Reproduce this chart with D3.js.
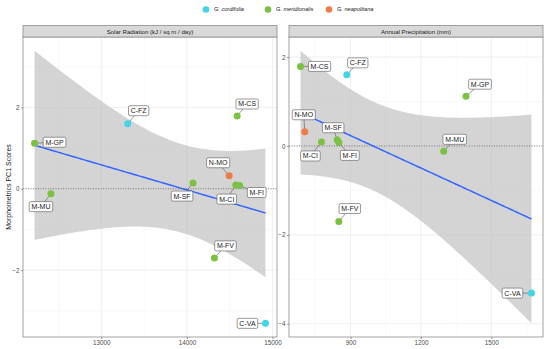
<!DOCTYPE html>
<html>
<head>
<meta charset="utf-8">
<script src="https://cdn.jsdelivr.net/npm/d3@7"></script>
<style>
  body { margin: 0; background: #fff; }
  svg { font-family: "Liberation Sans", Arial, sans-serif; }
</style>
</head>
<body>
<svg id="chart" width="550" height="349"></svg>
<script>
////////// dados

const sites   = ['M-GP','C-FZ','M-CS','N-MO','M-SF','M-CI','M-FI','M-MU','M-FV','C-VA'];
const species = ['G. meridionalis','G. cordifolia','G. meridionalis','G. neapolitana','G. meridionalis',
                 'G. meridionalis','G. meridionalis','G. meridionalis','G. meridionalis','G. cordifolia'];
const solar   = [12220, 13308, 14587, 14494, 14072, 14571, 14617, 12412, 14322, 14918];
const precip  = [1392, 884, 687, 705, 843, 776, 850, 1297, 850, 1671];
const pc1     = [1.12, 1.60, 1.79, 0.32, 0.14, 0.09, 0.08, -0.12, -1.70, -3.31];

const speciesList = ['G. cordifolia','G. meridionalis','G. neapolitana'];
const speciesColors = ['#43D4E6','#7BC143','#EF7B47'];

const solarTicks = [13000, 14000, 15000];
const solarMinor = [12500, 13500, 14500];
const precipTicks = [900, 1200, 1500];
const precipMinor = [750, 1050, 1350, 1650];
const solarYTicks = [-2, 0, 2];
const solarYMinor = [-3, -1, 1, 3];
const precipYTicks = [-4, -2, 0, 2];
const precipYMinor = [-3, -1, 1];

// deslocamento (px) das etiquetas em relacao ao ponto (tipo ggrepel)
const solarNudge  = [[20,-1],[11,-13],[10,-12],[-11,-13],[-11,13],[-9,14],[17,7],[-10,13],[11,-12],[-18,0]];
const precipNudge = [[14,-12],[11,-12],[19,0],[-1,-17],[-4,-12],[-11,14],[11,13],[11,-12],[11,-13],[-19,0]];

const tCrit = 2.306; // t(0.975, df = 8)

////////// layout

const svg = d3.select('#chart');
const color = d3.scaleOrdinal().domain(speciesList).range(speciesColors);

const panelTop = 37, panelBottom = 337;

// ajuste lm + intervalo de confianca
function fitLm(xs, ys){
  const n = xs.length;
  const mx = d3.mean(xs), my = d3.mean(ys);
  let sxx = 0, sxy = 0;
  xs.forEach((x,i) => { sxx += (x-mx)*(x-mx); sxy += (x-mx)*(ys[i]-my); });
  const b = sxy / sxx, a = my - b*mx;
  let sse = 0;
  xs.forEach((x,i) => { const r = ys[i] - (a + b*x); sse += r*r; });
  const s = Math.sqrt(sse / (n-2));
  const ext = d3.extent(xs);
  return d3.range(80).map(k => {
    const x = ext[0] + (ext[1]-ext[0]) * k / 79;
    const fit = a + b*x;
    const se = s * Math.sqrt(1/n + (x-mx)*(x-mx)/sxx);
    return {x: x, y: fit, lo: fit - tCrit*se, hi: fit + tCrit*se};
  });
}

function expand(ext){
  const d = (ext[1]-ext[0]) * 0.05;
  return [ext[0]-d, ext[1]+d];
}

function drawPanel(cfg){
  const g = svg.append('g');
  const smooth = fitLm(cfg.xs, pc1);

  const x = d3.scaleLinear().domain(expand(d3.extent(cfg.xs))).range([cfg.x0, cfg.x1]);
  const yExt = d3.extent(pc1.concat(smooth.map(d => d.lo), smooth.map(d => d.hi)));
  const y = d3.scaleLinear().domain(expand(yExt)).range([panelBottom, panelTop]);

  // grade
  g.selectAll('line.minx').data(cfg.xMinor).join('line')
    .attr('x1', d => x(d)).attr('x2', d => x(d))
    .attr('y1', panelTop).attr('y2', panelBottom)
    .attr('stroke', '#F2F2F2').attr('stroke-width', 0.5);
  g.selectAll('line.miny').data(cfg.yMinor).join('line')
    .attr('y1', d => y(d)).attr('y2', d => y(d))
    .attr('x1', cfg.x0).attr('x2', cfg.x1)
    .attr('stroke', '#F2F2F2').attr('stroke-width', 0.5);
  g.selectAll('line.majx').data(cfg.xTicks).join('line')
    .attr('x1', d => x(d)).attr('x2', d => x(d))
    .attr('y1', panelTop).attr('y2', panelBottom)
    .attr('stroke', '#EBEBEB').attr('stroke-width', 0.8);
  g.selectAll('line.majy').data(cfg.yTicks).join('line')
    .attr('y1', d => y(d)).attr('y2', d => y(d))
    .attr('x1', cfg.x0).attr('x2', cfg.x1)
    .attr('stroke', '#EBEBEB').attr('stroke-width', 0.8);

  // faixa de confianca
  g.append('path')
    .datum(smooth)
    .attr('d', d3.area().x(d => x(d.x)).y0(d => y(d.lo)).y1(d => y(d.hi)))
    .attr('fill', '#BDBDBD').attr('fill-opacity', 0.65);

  // linha zero
  g.append('line')
    .attr('x1', cfg.x0).attr('x2', cfg.x1)
    .attr('y1', y(0)).attr('y2', y(0))
    .attr('stroke', '#444').attr('stroke-width', 0.6)
    .attr('stroke-dasharray', '1,1.5');

  // reta
  g.append('path')
    .datum(smooth)
    .attr('d', d3.line().x(d => x(d.x)).y(d => y(d.y)))
    .attr('fill', 'none').attr('stroke', '#3366FF').attr('stroke-width', 1.5);

  const pts = sites.map((s,i) => ({
    site: s, sp: species[i],
    px: x(cfg.xs[i]), py: y(pc1[i]),
    lx: x(cfg.xs[i]) + cfg.nudge[i][0], ly: y(pc1[i]) + cfg.nudge[i][1]
  }));

  // segmentos
  g.selectAll('line.seg').data(pts).join('line')
    .attr('x1', d => d.px).attr('y1', d => d.py)
    .attr('x2', d => d.lx).attr('y2', d => d.ly)
    .attr('stroke', '#555').attr('stroke-width', 0.6);

  // pontos
  g.selectAll('circle').data(pts).join('circle')
    .attr('cx', d => d.px).attr('cy', d => d.py).attr('r', 3.5)
    .attr('fill', d => color(d.sp));

  // etiquetas
  const lab = g.selectAll('g.lab').data(pts).join('g')
    .attr('transform', d => `translate(${d.lx},${d.ly})`);
  lab.append('text')
    .attr('text-anchor', 'middle').attr('dy', '0.35em')
    .attr('font-size', 7).attr('fill', '#222')
    .text(d => d.site);
  lab.insert('rect', 'text')
    .each(function(){
      const w = this.parentNode.querySelector('text').getComputedTextLength();
      d3.select(this)
        .attr('x', -w/2 - 2.2).attr('y', -5)
        .attr('width', w + 4.4).attr('height', 10)
        .attr('rx', 1.5)
        .attr('fill', '#fff').attr('stroke', '#555').attr('stroke-width', 0.6);
    });

  // borda do painel
  g.append('rect')
    .attr('x', cfg.x0).attr('y', panelTop)
    .attr('width', cfg.x1-cfg.x0).attr('height', panelBottom-panelTop)
    .attr('fill', 'none').attr('stroke', '#8C8C8C').attr('stroke-width', 0.8);

  // faixa do titulo
  g.append('rect')
    .attr('x', cfg.x0).attr('y', 25.5)
    .attr('width', cfg.x1-cfg.x0).attr('height', panelTop-25.5)
    .attr('fill', '#D9D9D9').attr('stroke', '#8C8C8C').attr('stroke-width', 0.8);
  g.append('text')
    .attr('x', (cfg.x0+cfg.x1)/2).attr('y', 31.5).attr('dy', '0.35em')
    .attr('text-anchor', 'middle').attr('font-size', 6.1).attr('fill', '#1A1A1A')
    .text(cfg.title);

  // eixos
  const ax = g.append('g').attr('transform', `translate(0,${panelBottom})`)
    .call(d3.axisBottom(x).tickValues(cfg.xTicks).tickSize(2).tickPadding(2).tickFormat(d3.format('d')));
  const ay = g.append('g').attr('transform', `translate(${cfg.x0},0)`)
    .call(d3.axisLeft(y).tickValues(cfg.yTicks).tickSize(2).tickPadding(1.5).tickFormat(d3.format('d')));
  [ax, ay].forEach(a => {
    a.select('.domain').remove();
    a.selectAll('line').attr('stroke', '#555').attr('stroke-width', 0.6);
    a.selectAll('text').attr('font-size', 6.3).attr('fill', '#4D4D4D')
      .attr('font-family', '"Liberation Sans", Arial, sans-serif');
  });
}

drawPanel({title: 'Solar Radiation (kJ / sq m / day)', xs: solar, x0: 23, x1: 277,
  xTicks: solarTicks, xMinor: solarMinor, yTicks: solarYTicks, yMinor: solarYMinor, nudge: solarNudge});
drawPanel({title: 'Annual Precipitation (mm)', xs: precip, x0: 289, x1: 543,
  xTicks: precipTicks, xMinor: precipMinor, yTicks: precipYTicks, yMinor: precipYMinor, nudge: precipNudge});

// titulo do eixo y
svg.append('text')
  .attr('transform', 'translate(9,187) rotate(-90)')
  .attr('text-anchor', 'middle').attr('dy', '0.35em')
  .attr('font-size', 7).attr('fill', '#1A1A1A')
  .text('Morphometrics PC1 Scores');

// legenda
const legX = [206, 268, 329];
const leg = svg.selectAll('g.leg').data(speciesList).join('g')
  .attr('transform', (d,i) => `translate(${legX[i]},9.5)`);
leg.append('circle').attr('r', 3.3).attr('fill', d => color(d));
leg.append('text')
  .attr('x', 8).attr('dy', '0.35em')
  .attr('font-size', 5.6).attr('font-style', 'italic').attr('fill', '#1A1A1A')
  .text(d => d);
</script>
</body>
</html>
